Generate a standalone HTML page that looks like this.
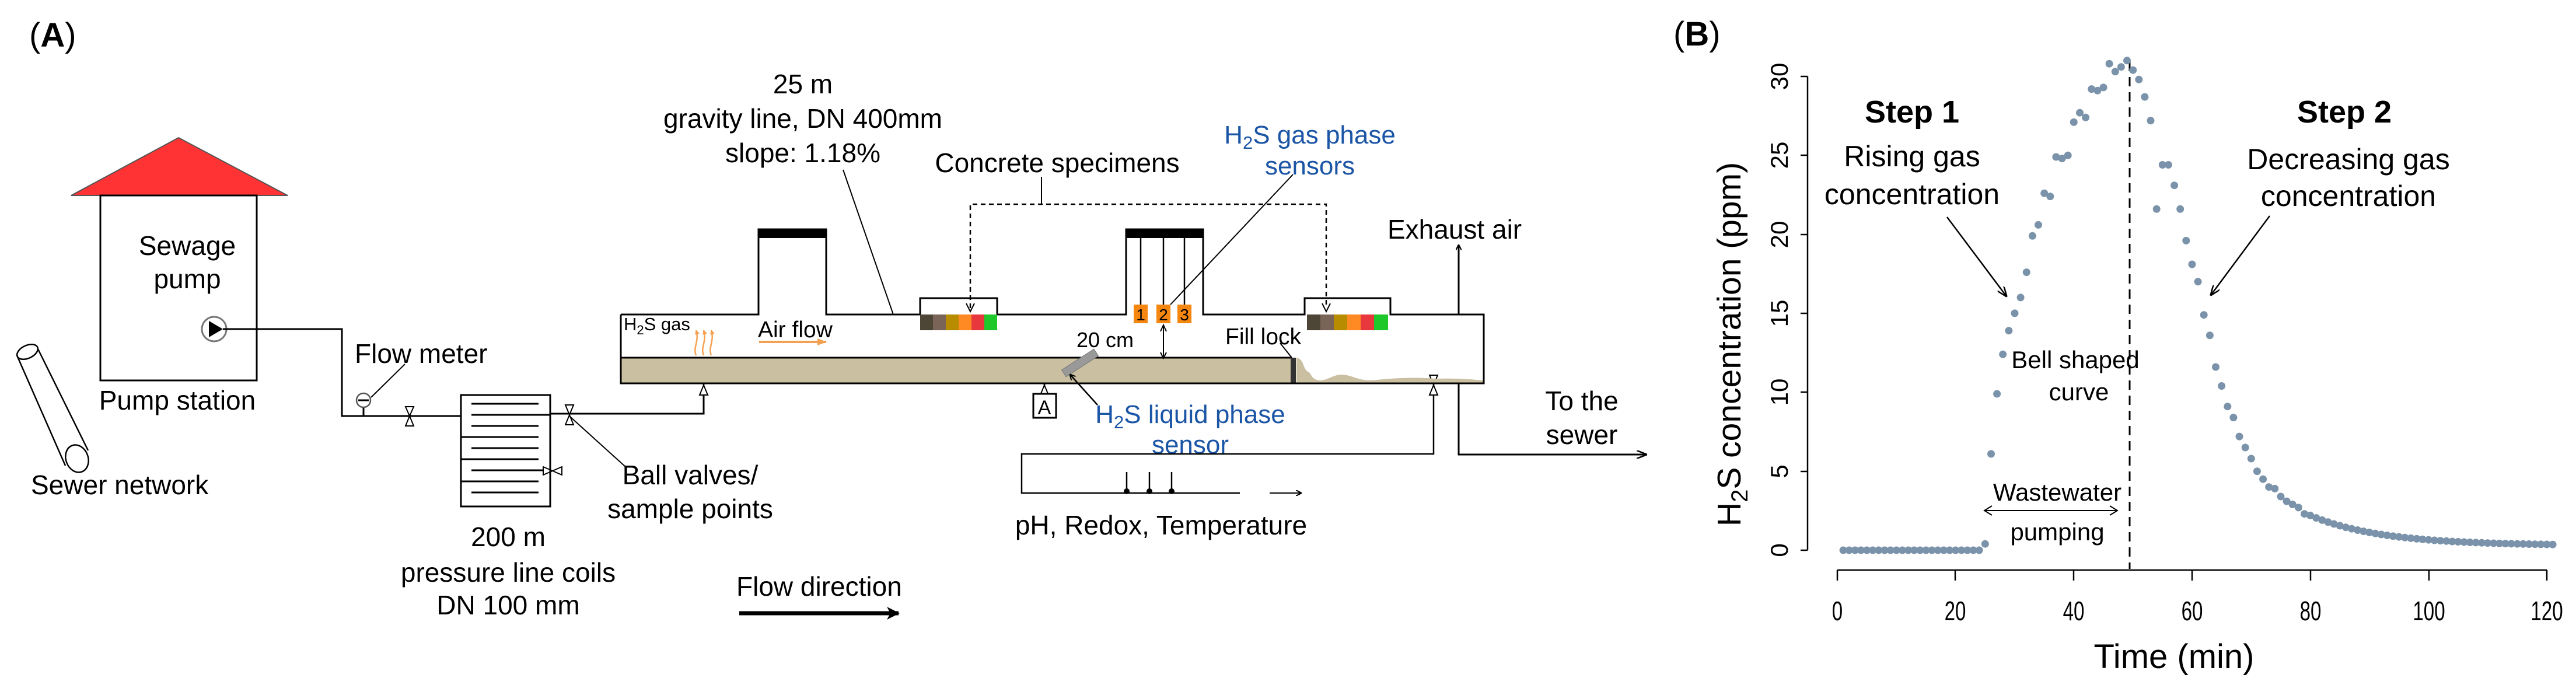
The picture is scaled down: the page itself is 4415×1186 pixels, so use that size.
<!DOCTYPE html>
<html><head><meta charset="utf-8"><style>
html,body{margin:0;padding:0;background:#fff;width:4415px;height:1186px;overflow:hidden}
svg{display:block}
text{font-family:"Liberation Sans",Arial,sans-serif;fill:#000}
</style></head><body>
<svg width="4415" height="1186" viewBox="0 0 4415 1186" xmlns="http://www.w3.org/2000/svg">
<defs>
<marker id="ah" markerWidth="10" markerHeight="10" refX="9" refY="5" orient="auto" markerUnits="userSpaceOnUse"><path d="M0,0 L10,5 L0,10" fill="none" stroke="#000" stroke-width="2"/></marker>
<marker id="ahb" markerWidth="22" markerHeight="22" refX="20" refY="11" orient="auto" markerUnits="userSpaceOnUse"><path d="M0,0 L22,11 L0,22 L6,11 Z" fill="#000"/></marker>
<marker id="ahs" markerWidth="18" markerHeight="14" refX="17" refY="7" orient="auto" markerUnits="userSpaceOnUse"><path d="M0,0 L18,7 L0,14" fill="none" stroke="#000" stroke-width="2.5"/></marker>
<marker id="aho" markerWidth="16" markerHeight="12" refX="15" refY="6" orient="auto" markerUnits="userSpaceOnUse"><path d="M0,0 L16,6 L0,12 Z" fill="#f5a050"/></marker>
<marker id="ahot" markerWidth="8" markerHeight="8" refX="7" refY="4" orient="auto" markerUnits="userSpaceOnUse"><path d="M0,0 L8,4 L0,8 Z" fill="#f5a050"/></marker>
</defs>

<!-- ===== Panel A ===== -->
<text x="50" y="80" font-size="58">(<tspan font-weight="bold">A</tspan>)</text>

<!-- pump station -->
<polygon points="122,335 306,236 493,335" fill="#ff3333" stroke="#555" stroke-width="2"/>
<rect x="172" y="335" width="268" height="317" fill="none" stroke="#000" stroke-width="3"/>
<text x="321" y="437" font-size="46" text-anchor="middle">Sewage</text>
<text x="321" y="494" font-size="46" text-anchor="middle">pump</text>
<text x="304" y="702" font-size="46" text-anchor="middle">Pump station</text>
<circle cx="367" cy="564" r="21" fill="#fff" stroke="#777" stroke-width="3"/>
<polygon points="358,550 358,578 382,564" fill="#000"/>
<polyline points="382,564 586,564 586,713 790,713" fill="none" stroke="#000" stroke-width="3"/>

<!-- sewer network pipe -->
<path d="M29,609 L112,798 M65,598 L151,772" stroke="#000" stroke-width="2.5" fill="none"/>
<ellipse cx="47" cy="603" rx="19" ry="11" transform="rotate(-25 47 603)" fill="#fff" stroke="#000" stroke-width="2.5"/>
<ellipse cx="132" cy="786" rx="19" ry="24" transform="rotate(-20 132 786)" fill="#fff" stroke="#000" stroke-width="2.5"/>
<text x="53" y="847" font-size="46">Sewer network</text>

<!-- flow meter -->
<line x1="623" y1="698" x2="623" y2="713" stroke="#000" stroke-width="3"/>
<circle cx="623" cy="686" r="12" fill="#fff" stroke="#555" stroke-width="2.5"/>
<line x1="614" y1="686" x2="632" y2="686" stroke="#000" stroke-width="3"/>
<line x1="636" y1="681" x2="694" y2="624" stroke="#000" stroke-width="2"/>
<text x="608" y="622" font-size="46">Flow meter</text>

<!-- valves (vertical bowtie) -->
<g fill="#fff" stroke="#000" stroke-width="2">
<polygon points="695,697 709,697 702,713 695,730 709,730 702,713"/>
<polygon points="969,694 983,694 976,711 969,728 983,728 976,711"/>
<polygon points="1199,643 1213,643 1206,660 1199,677 1213,677 1206,660"/>
<polygon points="1783,643 1797,643 1790,660 1783,677 1797,677 1790,660"/>
<polygon points="2450,643 2464,643 2457,660 2450,677 2464,677 2457,660"/>
<polygon points="931,800 931,814 947,807 963,800 963,814 947,807"/>
</g>

<!-- coil -->
<rect x="790" y="677" width="153" height="191" fill="none" stroke="#000" stroke-width="3"/>
<g stroke="#000" stroke-width="3">
<line x1="808" y1="692" x2="923" y2="692"/>
<line x1="808" y1="711" x2="943" y2="711"/>
<line x1="808" y1="730" x2="923" y2="730"/>
<line x1="790" y1="749" x2="923" y2="749"/>
<line x1="808" y1="768" x2="923" y2="768"/>
<line x1="790" y1="787" x2="923" y2="787"/>
<line x1="808" y1="806" x2="931" y2="806"/>
<line x1="790" y1="825" x2="923" y2="825"/>
<line x1="808" y1="844" x2="923" y2="844"/>
</g>
<polyline points="943,709 1206,709 1206,677" fill="none" stroke="#000" stroke-width="3"/>
<line x1="978" y1="715" x2="1072" y2="800" stroke="#000" stroke-width="2"/>
<text x="1183" y="830" font-size="46" text-anchor="middle">Ball valves/</text>
<text x="1183" y="888" font-size="46" text-anchor="middle">sample points</text>
<text x="871" y="936" font-size="46" text-anchor="middle">200 m</text>
<text x="871" y="997" font-size="46" text-anchor="middle">pressure line coils</text>
<text x="871" y="1053" font-size="46" text-anchor="middle">DN 100 mm</text>

<text x="1262" y="1021" font-size="46">Flow direction</text>
<line x1="1267" y1="1051" x2="1540" y2="1051" stroke="#000" stroke-width="7" marker-end="url(#ahb)"/>

<!-- gravity line -->
<rect x="1064" y="613" width="1148" height="44" fill="#cbbfa2"/>
<path d="M2222,613 C2235,616 2232,628 2240,636 C2250,640 2245,650 2262,652 C2275,652 2285,642 2300,642 C2320,643 2330,655 2360,651 C2390,648 2420,646 2460,649 C2500,648 2520,650 2543,652 L2543,657 L2222,657 Z" fill="#cbbfa2"/>
<line x1="1064" y1="613" x2="2212" y2="613" stroke="#000" stroke-width="3"/>
<rect x="2212" y="613" width="9" height="44" fill="#333"/>
<polyline points="1064,539 1300,539 1300,393 1416,393 1416,539 1577,539 1577,511 1709,511 1709,539 1930,539 1930,393 2062,393 2062,539 2236,539 2236,511 2383,511 2383,539 2543,539 2543,657 1064,657 1064,539" fill="none" stroke="#000" stroke-width="3"/>
<rect x="1300" y="393" width="116" height="15" fill="#000"/>
<rect x="1930" y="393" width="132" height="15" fill="#000"/>

<!-- specimens -->
<g>
<rect x="1577" y="539" width="22" height="27" fill="#4d4535"/>
<rect x="1599" y="539" width="22" height="27" fill="#7a6457"/>
<rect x="1621" y="539" width="22" height="27" fill="#b88c00"/>
<rect x="1643" y="539" width="22" height="27" fill="#ff8a24"/>
<rect x="1665" y="539" width="22" height="27" fill="#e8383d"/>
<rect x="1687" y="539" width="22" height="27" fill="#1ec72a"/>
<rect x="2240" y="539" width="23" height="27" fill="#4d4535"/>
<rect x="2263" y="539" width="23" height="27" fill="#7a6457"/>
<rect x="2286" y="539" width="23" height="27" fill="#b88c00"/>
<rect x="2309" y="539" width="23" height="27" fill="#ff8a24"/>
<rect x="2332" y="539" width="23" height="27" fill="#e8383d"/>
<rect x="2355" y="539" width="24" height="27" fill="#1ec72a"/>
</g>

<!-- sensors on center riser -->
<g stroke="#000" stroke-width="2.5">
<line x1="1955" y1="408" x2="1955" y2="522"/>
<line x1="1994" y1="408" x2="1994" y2="522"/>
<line x1="2030" y1="408" x2="2030" y2="522"/>
</g>
<rect x="1943" y="522" width="24" height="32" fill="#f5860f"/>
<rect x="1982" y="522" width="24" height="32" fill="#f5860f"/>
<rect x="2018" y="522" width="24" height="32" fill="#f5860f"/>
<text x="1955" y="549" font-size="28" text-anchor="middle">1</text>
<text x="1994" y="549" font-size="28" text-anchor="middle">2</text>
<text x="2030" y="549" font-size="28" text-anchor="middle">3</text>
<line x1="2216" y1="299" x2="2006" y2="522" stroke="#000" stroke-width="2"/>

<!-- dashed specimen line -->
<polyline points="1663,528 1663,350 2273,350 2273,528" fill="none" stroke="#000" stroke-width="2.5" stroke-dasharray="8,6"/>
<path d="M1656,520 L1663,534 L1670,520 M2266,520 L2273,534 L2280,520" fill="none" stroke="#000" stroke-width="2"/>
<line x1="1785" y1="303" x2="1785" y2="350" stroke="#000" stroke-width="2"/>
<text x="1812" y="295" font-size="46" text-anchor="middle">Concrete specimens</text>

<!-- gravity text -->
<text x="1376" y="160" font-size="46" text-anchor="middle">25 m</text>
<text x="1376" y="219" font-size="46" text-anchor="middle">gravity line, DN 400mm</text>
<text x="1376" y="278" font-size="46" text-anchor="middle">slope: 1.18%</text>
<line x1="1445" y1="291" x2="1531" y2="539" stroke="#000" stroke-width="2"/>

<text x="2245" y="246" font-size="44" text-anchor="middle" style="fill:#1b55a5">H<tspan font-size="31" dy="9" style="fill:#1b55a5">2</tspan><tspan dy="-9" style="fill:#1b55a5">S gas phase</tspan></text>
<text x="2245" y="299" font-size="44" text-anchor="middle" style="fill:#1b55a5">sensors</text>

<!-- inside labels -->
<text x="1069" y="566" font-size="31">H<tspan font-size="22" dy="7">2</tspan><tspan dy="-7">S gas</tspan></text>
<g fill="none" stroke="#f5a050" stroke-width="2.5" marker-end="url(#ahot)">
<path d="M1193,609 C1187,595 1199,585 1193,566"/>
<path d="M1206,609 C1200,595 1212,585 1206,566"/>
<path d="M1219,609 C1213,595 1225,585 1219,566"/>
</g>
<text x="1299" y="578" font-size="39">Air flow</text>
<line x1="1301" y1="586" x2="1416" y2="586" stroke="#f5a050" stroke-width="4" marker-end="url(#aho)"/>
<text x="1894" y="595" font-size="36" text-anchor="middle">20 cm</text>
<line x1="1994" y1="560" x2="1994" y2="611" stroke="#000" stroke-width="2"/>
<path d="M1989,568 L1994,557 L1999,568 M1989,604 L1994,614 L1999,604" fill="none" stroke="#000" stroke-width="2"/>
<text x="2100" y="590" font-size="39">Fill lock</text>
<line x1="2194" y1="588" x2="2214" y2="613" stroke="#000" stroke-width="2"/>

<!-- exhaust / exit -->
<line x1="2500" y1="539" x2="2500" y2="420" stroke="#000" stroke-width="3" marker-end="url(#ah)"/>
<text x="2378" y="409" font-size="46">Exhaust air</text>
<polyline points="2500,657 2500,779 2822,779" fill="none" stroke="#000" stroke-width="3" marker-end="url(#ahs)"/>
<text x="2711" y="703" font-size="46" text-anchor="middle">To the</text>
<text x="2711" y="761" font-size="46" text-anchor="middle">sewer</text>

<!-- liquid sensor -->
<rect x="1818" y="615" width="66" height="14" fill="#999" stroke="#777" stroke-width="1" transform="rotate(-33 1851 622)"/>
<line x1="1881" y1="694" x2="1834" y2="642" stroke="#000" stroke-width="2.5" marker-end="url(#ah)"/>
<rect x="1771" y="675" width="39" height="41" fill="#fff" stroke="#000" stroke-width="3"/>
<text x="1790" y="710" font-size="34" text-anchor="middle">A</text>
<text x="2040" y="725" font-size="44" text-anchor="middle" style="fill:#1b55a5">H<tspan font-size="31" dy="9" style="fill:#1b55a5">2</tspan><tspan dy="-9" style="fill:#1b55a5">S liquid phase</tspan></text>
<text x="2040" y="777" font-size="44" text-anchor="middle" style="fill:#1b55a5">sensor</text>

<!-- sample loop -->
<polyline points="2457,677 2457,778 1751,778 1751,845 2125,845" fill="none" stroke="#000" stroke-width="2.5"/>
<g stroke="#000" stroke-width="2.5">
<line x1="1931" y1="809" x2="1931" y2="842"/>
<line x1="1970" y1="809" x2="1970" y2="842"/>
<line x1="2008" y1="809" x2="2008" y2="842"/>
</g>
<circle cx="1931" cy="842" r="5"/><circle cx="1970" cy="842" r="5"/><circle cx="2008" cy="842" r="5"/>
<line x1="2176" y1="845" x2="2230" y2="845" stroke="#000" stroke-width="2" marker-end="url(#ah)"/>
<text x="1990" y="916" font-size="46" text-anchor="middle">pH, Redox, Temperature</text>

<!-- ===== Panel B ===== -->
<text x="2868" y="78" font-size="58">(<tspan font-weight="bold">B</tspan>)</text>

<!-- axes -->
<g stroke="#000" stroke-width="2.5" fill="none">
<line x1="3098" y1="131" x2="3098" y2="943"/>
<line x1="3086" y1="131" x2="3098" y2="131"/>
<line x1="3086" y1="266" x2="3098" y2="266"/>
<line x1="3086" y1="402" x2="3098" y2="402"/>
<line x1="3086" y1="537" x2="3098" y2="537"/>
<line x1="3086" y1="672" x2="3098" y2="672"/>
<line x1="3086" y1="808" x2="3098" y2="808"/>
<line x1="3086" y1="943" x2="3098" y2="943"/>
<line x1="3149" y1="977" x2="4365" y2="977"/>
<line x1="3149" y1="977" x2="3149" y2="995"/>
<line x1="3351" y1="977" x2="3351" y2="995"/>
<line x1="3554" y1="977" x2="3554" y2="995"/>
<line x1="3757" y1="977" x2="3757" y2="995"/>
<line x1="3960" y1="977" x2="3960" y2="995"/>
<line x1="4163" y1="977" x2="4163" y2="995"/>
<line x1="4365" y1="977" x2="4365" y2="995"/>
</g>
<g font-size="46" text-anchor="middle">
<text x="3149" y="1063" transform="translate(3149 1047) scale(0.72 1) translate(-3149 -1047)">0</text>
<text x="3351" y="1063" transform="translate(3351 1047) scale(0.72 1) translate(-3351 -1047)">20</text>
<text x="3554" y="1063" transform="translate(3554 1047) scale(0.72 1) translate(-3554 -1047)">40</text>
<text x="3757" y="1063" transform="translate(3757 1047) scale(0.72 1) translate(-3757 -1047)">60</text>
<text x="3960" y="1063" transform="translate(3960 1047) scale(0.72 1) translate(-3960 -1047)">80</text>
<text x="4163" y="1063" transform="translate(4163 1047) scale(0.72 1) translate(-4163 -1047)">100</text>
<text x="4365" y="1063" transform="translate(4365 1047) scale(0.72 1) translate(-4365 -1047)">120</text>
</g>
<g font-size="42" text-anchor="middle">
<text transform="translate(3064 943) rotate(-90)">0</text>
<text transform="translate(3064 808) rotate(-90)">5</text>
<text transform="translate(3064 672) rotate(-90)">10</text>
<text transform="translate(3064 537) rotate(-90)">15</text>
<text transform="translate(3064 402) rotate(-90)">20</text>
<text transform="translate(3064 266) rotate(-90)">25</text>
<text transform="translate(3064 131) rotate(-90)">30</text>
</g>
<text transform="translate(2983 590) rotate(-90)" font-size="57" text-anchor="middle">H<tspan font-size="40" dy="12">2</tspan><tspan dy="-12">S concentration (ppm)</tspan></text>
<text x="3726" y="1145" font-size="58" text-anchor="middle">Time (min)</text>

<!-- dashed vertical -->
<line x1="3650" y1="106" x2="3650" y2="975" stroke="#000" stroke-width="3" stroke-dasharray="16,10"/>

<!-- data -->
<g fill="#7a93aa">
<line x1="3159.1" y1="943" x2="3393" y2="943" stroke="#7a93aa" stroke-width="13" stroke-linecap="round" stroke-dasharray="0 10.133"/>
<circle cx="3402.3" cy="932.2" r="6.5"/><circle cx="3412.5" cy="777.9" r="6.5"/><circle cx="3422.6" cy="675" r="6.5"/><circle cx="3432.7" cy="607.3" r="6.5"/><circle cx="3442.9" cy="566.7" r="6.5"/><circle cx="3453" cy="536.9" r="6.5"/><circle cx="3463.1" cy="509.9" r="6.5"/><circle cx="3473.3" cy="466.6" r="6.5"/><circle cx="3483.4" cy="404.3" r="6.5"/><circle cx="3493.5" cy="385.4" r="6.5"/><circle cx="3503.7" cy="331.2" r="6.5"/><circle cx="3513.8" cy="336.6" r="6.5"/><circle cx="3523.9" cy="269" r="6.5"/><circle cx="3534.1" cy="271.7" r="6.5"/><circle cx="3544.2" cy="266.3" r="6.5"/><circle cx="3554.3" cy="209.4" r="6.5"/><circle cx="3564.5" cy="193.2" r="6.5"/><circle cx="3574.6" cy="201.3" r="6.5"/><circle cx="3584.7" cy="152.6" r="6.5"/><circle cx="3594.9" cy="155.3" r="6.5"/><circle cx="3605" cy="149.9" r="6.5"/><circle cx="3615.1" cy="109.2" r="6.5"/><circle cx="3625.3" cy="122.8" r="6.5"/><circle cx="3635.4" cy="114.7" r="6.5"/><circle cx="3645.5" cy="103.8" r="6.5"/><circle cx="3655.7" cy="120.1" r="6.5"/><circle cx="3665.8" cy="136.3" r="6.5"/><circle cx="3675.9" cy="166.1" r="6.5"/><circle cx="3686" cy="206.7" r="6.5"/><circle cx="3696.2" cy="358.3" r="6.5"/><circle cx="3706.3" cy="282.5" r="6.5"/><circle cx="3716.4" cy="282.5" r="6.5"/><circle cx="3726.6" cy="317.7" r="6.5"/><circle cx="3736.7" cy="358.3" r="6.5"/><circle cx="3746.8" cy="412.4" r="6.5"/><circle cx="3757" cy="453" r="6.5"/><circle cx="3767.1" cy="482.8" r="6.5"/><circle cx="3777.2" cy="539.7" r="6.5"/><circle cx="3787.4" cy="574.8" r="6.5"/><circle cx="3797.5" cy="629" r="6.5"/><circle cx="3807.6" cy="661.5" r="6.5"/><circle cx="3817.8" cy="696.7" r="6.5"/><circle cx="3827.9" cy="715.6" r="6.5"/><circle cx="3838" cy="748.1" r="6.5"/><circle cx="3848.2" cy="767" r="6.5"/><circle cx="3858.3" cy="786" r="6.5"/><circle cx="3868.4" cy="807.7" r="6.5"/><circle cx="3878.6" cy="821.2" r="6.5"/><circle cx="3888.7" cy="834.7" r="6.5"/><circle cx="3898.8" cy="837.4" r="6.5"/><circle cx="3909" cy="851" r="6.5"/><circle cx="3919.1" cy="859.1" r="6.5"/><circle cx="3929.2" cy="864.5" r="6.5"/><circle cx="3939.4" cy="869.9" r="6.5"/><circle cx="3949.5" cy="880.7" r="6.5"/><circle cx="3959.6" cy="883.4" r="6.5"/>
<circle cx="3969.7" cy="887.6" r="6.5"/><circle cx="3979.9" cy="891.4" r="6.5"/><circle cx="3990" cy="894.8" r="6.5"/><circle cx="4000.1" cy="898" r="6.5"/><circle cx="4010.3" cy="901" r="6.5"/><circle cx="4020.4" cy="903.7" r="6.5"/><circle cx="4030.5" cy="906.2" r="6.5"/><circle cx="4040.7" cy="908.5" r="6.5"/><circle cx="4050.8" cy="910.6" r="6.5"/><circle cx="4060.9" cy="912.5" r="6.5"/><circle cx="4071.1" cy="914.3" r="6.5"/><circle cx="4081.2" cy="916" r="6.5"/><circle cx="4091.3" cy="917.5" r="6.5"/><circle cx="4101.5" cy="918.9" r="6.5"/><circle cx="4111.6" cy="920.1" r="6.5"/><circle cx="4121.7" cy="921.3" r="6.5"/><circle cx="4131.9" cy="922.4" r="6.5"/><circle cx="4142" cy="923.4" r="6.5"/><circle cx="4152.1" cy="924.4" r="6.5"/><circle cx="4162.3" cy="925.2" r="6.5"/><circle cx="4172.4" cy="926" r="6.5"/><circle cx="4182.5" cy="926.7" r="6.5"/><circle cx="4192.7" cy="927.3" r="6.5"/><circle cx="4202.8" cy="928" r="6.5"/><circle cx="4212.9" cy="928.5" r="6.5"/><circle cx="4223.1" cy="929" r="6.5"/><circle cx="4233.2" cy="929.5" r="6.5"/><circle cx="4243.3" cy="929.9" r="6.5"/><circle cx="4253.5" cy="930.3" r="6.5"/><circle cx="4263.6" cy="930.7" r="6.5"/><circle cx="4273.7" cy="931" r="6.5"/><circle cx="4283.9" cy="931.4" r="6.5"/><circle cx="4294" cy="931.6" r="6.5"/><circle cx="4304.1" cy="931.9" r="6.5"/><circle cx="4314.3" cy="932.1" r="6.5"/><circle cx="4324.4" cy="932.3" r="6.5"/><circle cx="4334.5" cy="932.5" r="6.5"/><circle cx="4344.7" cy="932.7" r="6.5"/><circle cx="4354.8" cy="932.9" r="6.5"/><circle cx="4364.9" cy="933" r="6.5"/><circle cx="4375.1" cy="933.2" r="6.5"/>
</g>

<!-- annotations -->
<text x="3277" y="210" font-size="54" font-weight="bold" text-anchor="middle">Step 1</text>
<text x="3277" y="285" font-size="50" text-anchor="middle">Rising gas</text>
<text x="3277" y="350" font-size="50" text-anchor="middle">concentration</text>
<line x1="3337" y1="372" x2="3439" y2="508" stroke="#000" stroke-width="2.5" marker-end="url(#ahs)"/>
<text x="4018" y="210" font-size="54" font-weight="bold" text-anchor="middle">Step 2</text>
<text x="4025" y="290" font-size="50" text-anchor="middle">Decreasing gas</text>
<text x="4025" y="353" font-size="50" text-anchor="middle">concentration</text>
<line x1="3890" y1="370" x2="3789" y2="506" stroke="#000" stroke-width="2.5" marker-end="url(#ahs)"/>
<text x="3557" y="631" font-size="42" text-anchor="middle">Bell shaped</text>
<text x="3563" y="686" font-size="42" text-anchor="middle">curve</text>
<text x="3526" y="858" font-size="42" text-anchor="middle">Wastewater</text>
<text x="3526" y="926" font-size="42" text-anchor="middle">pumping</text>
<line x1="3401" y1="875" x2="3629" y2="875" stroke="#000" stroke-width="2"/>
<path d="M3414,867 L3401,875 L3414,883 M3616,867 L3629,875 L3616,883" fill="none" stroke="#000" stroke-width="2"/>
</svg>
</body></html>
